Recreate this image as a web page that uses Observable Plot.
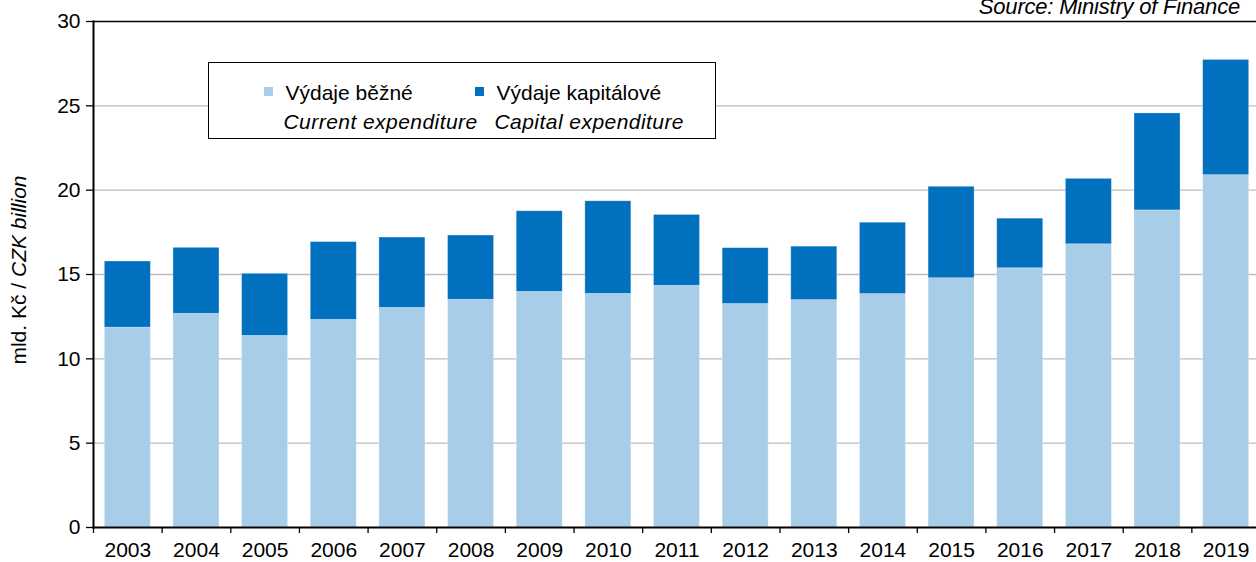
<!DOCTYPE html>
<html><head><meta charset="utf-8">
<script src="https://cdn.jsdelivr.net/npm/d3@7"></script>
<script src="https://cdn.jsdelivr.net/npm/@observablehq/plot@0.6"></script>
<style>
body{margin:0;background:#fff;}
#wrap{position:relative;width:1256px;height:562px;overflow:hidden;font-family:"Liberation Sans",Arial,sans-serif;color:#000;}
#wrap svg{position:absolute;left:0;top:0;}
.ov{position:absolute;white-space:nowrap;line-height:1;}
#src{right:16px;top:-4px;font-size:22px;font-style:italic;letter-spacing:-0.2px;}
#ylab{left:18px;top:270px;font-size:21px;transform:translate(-50%,-50%) rotate(-90deg);}
#legend{position:absolute;left:208px;top:62px;width:508px;height:77px;border:1.5px solid #000;box-sizing:border-box;background:#fff;}
#legend .sw{position:absolute;width:9px;height:9px;}
#legend .t{position:absolute;font-size:21px;line-height:1;white-space:nowrap;}
#legend .en{font-style:italic;letter-spacing:0.45px;}
</style></head>
<body><div id="wrap"></div>
<script>
const years = ["2003","2004","2005","2006","2007","2008","2009","2010","2011","2012","2013","2014","2015","2016","2017","2018","2019"];
const current = [11.85,12.67,11.36,12.31,13.02,13.50,13.97,13.85,14.33,13.25,13.48,13.84,14.78,15.37,16.79,18.80,20.89];
const capital = [3.92,3.91,3.68,4.61,4.17,3.81,4.78,5.49,4.20,3.31,3.17,4.23,5.42,2.94,3.88,5.75,6.83];
const seriesNames = ["Výdaje běžné","Výdaje kapitálové"];
const seriesEn = ["Current expenditure","Capital expenditure"];
const colors = ["#a7cde8","#0070bf"];
const yTicks = [0,5,10,15,20,25,30];
const gridTicks = [5,10,15,20,25];

const data = [];
years.forEach((y,i)=>{
  data.push({year:y, series:seriesNames[0], value:current[i]});
  data.push({year:y, series:seriesNames[1], value:capital[i]});
});

const W = 1256, H = 562;
const x0 = 93, x1 = 1260;
const step = (x1 - x0) / years.length;

const chart = Plot.plot({
  width: W, height: H,
  marginLeft: 93, marginRight: 0, marginTop: 21, marginBottom: 35,
  style: {fontFamily: '"Liberation Sans", Arial, sans-serif', fontSize: "21px", color: "#000", background: "transparent"},
  x: {domain: years, range: [x0, x1], round: false, paddingInner: 0.33, paddingOuter: 0.165, label: null},
  y: {domain: [0, 30], label: null},
  color: {domain: seriesNames, range: colors},
  marks: [
    Plot.ruleY(gridTicks, {stroke: "#bdbdbd", strokeWidth: 1.3}),
    Plot.barY(data, Plot.stackY({order: seriesNames, x: "year", y: "value", fill: "series", stroke: "#ffffff", strokeOpacity: 0.35, strokeWidth: 0.8})),
    Plot.ruleY([30], {stroke: "#000", strokeWidth: 1.5}),
    Plot.frame({anchor: "left", stroke: "#000", strokeWidth: 2}),
    Plot.frame({anchor: "bottom", stroke: "#000", strokeWidth: 2}),
    Plot.axisY({ticks: yTicks, tickSize: 7, tickPadding: 6, fontSize: 21, label: null, stroke: "#000", strokeWidth: 1.3}),
    Plot.axisX({tickSize: 6, text: null, dx: -step/2, stroke: "#000", strokeWidth: 1.3}),
    Plot.axisX({tickSize: 0, tickPadding: 15, fontSize: 21, label: null})
  ]
});

const wrap = document.getElementById("wrap");
wrap.appendChild(chart);

const src = document.createElement("div");
src.className = "ov"; src.id = "src";
src.textContent = "Source: Ministry of Finance";
wrap.appendChild(src);

const ylab = document.createElement("div");
ylab.className = "ov"; ylab.id = "ylab";
ylab.innerHTML = 'mld. Kč / <i>CZK billion</i>';
wrap.appendChild(ylab);

const lg = document.createElement("div");
lg.id = "legend";
const swX = [54.5, 265.5], txX = [76.5, 287.5], enX = [74.5, 285.5];
seriesNames.forEach((s,i)=>{
  const sw = document.createElement("div");
  sw.className = "sw"; sw.style.left = swX[i]+"px"; sw.style.top = "23.5px"; sw.style.background = colors[i];
  lg.appendChild(sw);
  const t = document.createElement("div");
  t.className = "t"; t.style.left = txX[i]+"px"; t.style.top = "18.8px"; t.textContent = s;
  lg.appendChild(t);
  const e = document.createElement("div");
  e.className = "t en"; e.style.left = enX[i]+"px"; e.style.top = "47.8px"; e.textContent = seriesEn[i];
  lg.appendChild(e);
});
wrap.appendChild(lg);
</script>
</body></html>
